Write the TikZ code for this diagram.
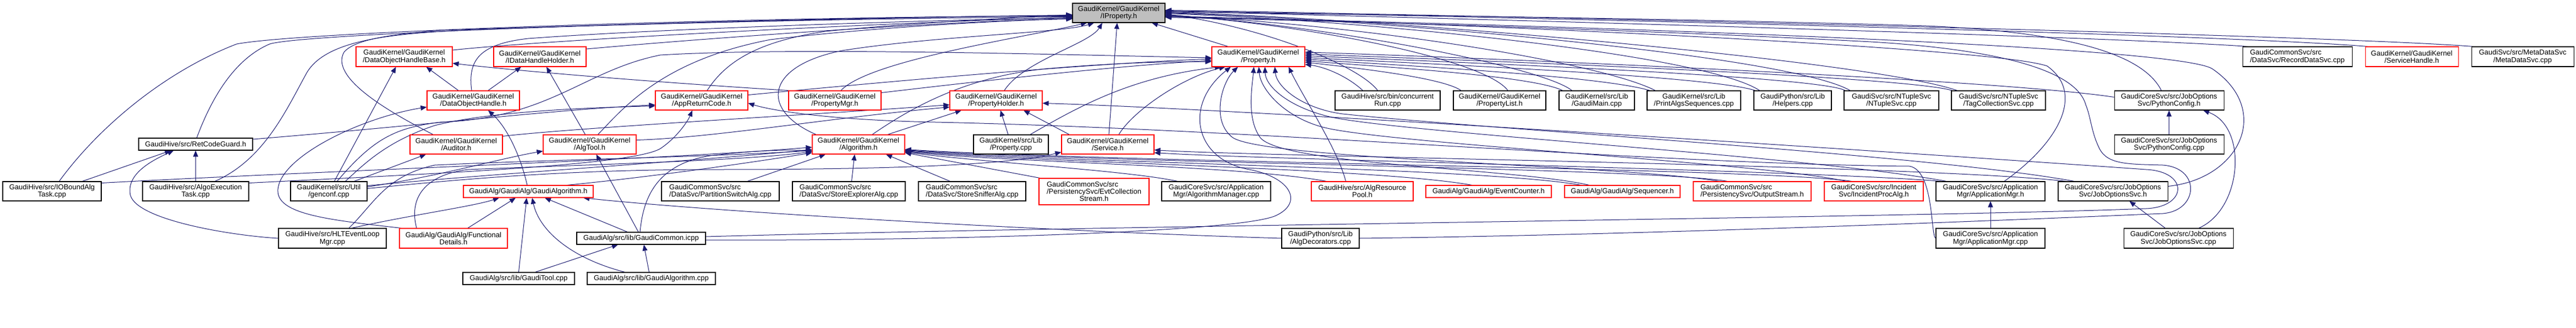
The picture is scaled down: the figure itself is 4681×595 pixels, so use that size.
\documentclass[tikz,border=0pt]{standalone}
\usepackage{fontspec}
\setsansfont{Liberation Sans}
\usetikzlibrary{arrows.meta}
\definecolor{mblue}{RGB}{25,25,112}
\definecolor{gfill}{RGB}{191,191,191}
\pgfdeclarelayer{bg}
\pgfsetlayers{bg,main}
\newlength{\lfw}
\newcommand{\lfirst}[2]{\settowidth{\lfw}{#2}\makebox[\lfw][l]{#1}\\#2}
\begin{document}
\begin{tikzpicture}[x=1pt,y=-1pt,
  box/.style={draw=black, line width=1.1pt, fill=white, inner sep=0pt, align=center,
    font=\sffamily\fontsize{13pt}{13.3pt}\selectfont, text=black},
  rbox/.style={box, draw=red},
  rootbox/.style={box, fill=gfill},
  dep/.style={draw=mblue, line width=1pt, -{Triangle[length=11pt,width=9pt]}}]
\useasboundingbox (0,0) rectangle (4681,595);
% ---------- row 0/1
\node[rootbox, minimum width=168pt, minimum height=35pt] (ip) at (2033,23.5) {GaudiKernel/GaudiKernel\\/IProperty.h};
\node[rbox, minimum width=175pt, minimum height=36pt] (dohb) at (734.5,103) {GaudiKernel/GaudiKernel\\/DataObjectHandleBase.h};
\node[rbox, minimum width=168pt, minimum height=36pt] (idhh) at (981,103) {GaudiKernel/GaudiKernel\\/IDataHandleHolder.h};
\node[rbox, minimum width=169pt, minimum height=36pt] (prop) at (2286.5,103) {GaudiKernel/GaudiKernel\\/Property.h};
\node[box, minimum width=199pt, minimum height=36pt] (rds) at (4174.5,103) {\lfirst{GaudiCommonSvc/src}{/DataSvc/RecordDataSvc.cpp}};
\node[rbox, minimum width=169pt, minimum height=36pt] (sh) at (4382.5,103) {GaudiKernel/GaudiKernel\\/ServiceHandle.h};
\node[box, minimum width=186pt, minimum height=36pt] (mds) at (4584,103) {GaudiSvc/src/MetaDataSvc\\/MetaDataSvc.cpp};
% ---------- row 2
\node[rbox, minimum width=168pt, minimum height=35pt] (doh) at (860,182.5) {GaudiKernel/GaudiKernel\\/DataObjectHandle.h};
\node[rbox, minimum width=168pt, minimum height=35pt] (arc) at (1275,182.5) {GaudiKernel/GaudiKernel\\/AppReturnCode.h};
\node[rbox, minimum width=168pt, minimum height=35pt] (pmgr) at (1517,182.5) {GaudiKernel/GaudiKernel\\/PropertyMgr.h};
\node[rbox, minimum width=168pt, minimum height=35pt] (ph) at (1810,182.5) {GaudiKernel/GaudiKernel\\/PropertyHolder.h};
\node[box, minimum width=191pt, minimum height=35pt] (crun) at (2521.5,182.5) {GaudiHive/src/bin/concurrent\\Run.cpp};
\node[box, minimum width=168pt, minimum height=35pt] (plist) at (2725,182.5) {GaudiKernel/GaudiKernel\\/PropertyList.h};
\node[box, minimum width=137pt, minimum height=35pt] (gmain) at (2901.5,182.5) {GaudiKernel/src/Lib\\/GaudiMain.cpp};
\node[box, minimum width=170pt, minimum height=35pt] (pas) at (3078,182.5) {GaudiKernel/src/Lib\\/PrintAlgsSequences.cpp};
\node[box, minimum width=141pt, minimum height=35pt] (help) at (3257.5,182.5) {GaudiPython/src/Lib\\/Helpers.cpp};
\node[box, minimum width=172pt, minimum height=35pt] (nts) at (3437,182.5) {GaudiSvc/src/NTupleSvc\\/NTupleSvc.cpp};
\node[box, minimum width=171pt, minimum height=35pt] (tcs) at (3631.5,182.5) {GaudiSvc/src/NTupleSvc\\/TagCollectionSvc.cpp};
\node[box, minimum width=199pt, minimum height=35pt] (pch) at (3941.5,182.5) {GaudiCoreSvc/src/JobOptions\\Svc/PythonConfig.h};
% ---------- row 3
\node[box, minimum width=207pt, minimum height=22pt] (rcg) at (355.5,262) {GaudiHive/src/RetCodeGuard.h};
\node[rbox, minimum width=168pt, minimum height=35pt] (aud) at (829,262.5) {GaudiKernel/GaudiKernel\\/Auditor.h};
\node[rbox, minimum width=169pt, minimum height=35pt] (atool) at (1071.5,262.5) {GaudiKernel/GaudiKernel\\/AlgTool.h};
\node[rbox, minimum width=168pt, minimum height=35pt] (alg) at (1560,262.5) {GaudiKernel/GaudiKernel\\/Algorithm.h};
\node[box, minimum width=136pt, minimum height=35pt] (pcpp) at (1837,262.5) {GaudiKernel/src/Lib\\/Property.cpp};
\node[rbox, minimum width=168pt, minimum height=35pt] (svc) at (2013,262.5) {GaudiKernel/GaudiKernel\\/Service.h};
\node[box, minimum width=199pt, minimum height=35pt] (pcc) at (3941.5,262.5) {GaudiCoreSvc/src/JobOptions\\Svc/PythonConfig.cpp};
% ---------- row 4
\node[box, minimum width=179pt, minimum height=35pt] (iob) at (94.5,347.5) {GaudiHive/src/IOBoundAlg\\Task.cpp};
\node[box, minimum width=193pt, minimum height=35pt] (aet) at (355.5,347.5) {GaudiHive/src/AlgoExecution\\Task.cpp};
\node[box, minimum width=139pt, minimum height=35pt] (genc) at (597.5,347.5) {GaudiKernel/src/Util\\/genconf.cpp};
\node[rbox, minimum width=236pt, minimum height=22pt] (galh) at (960,348) {GaudiAlg/GaudiAlg/GaudiAlgorithm.h};
\node[box, minimum width=214pt, minimum height=35pt] (psa) at (1309,347.5) {\lfirst{GaudiCommonSvc/src}{/DataSvc/PartitionSwitchAlg.cpp}};
\node[box, minimum width=205pt, minimum height=35pt] (sea) at (1542.5,347.5) {\lfirst{GaudiCommonSvc/src}{/DataSvc/StoreExplorerAlg.cpp}};
\node[box, minimum width=195pt, minimum height=35pt] (ssa) at (1766.5,347.5) {\lfirst{GaudiCommonSvc/src}{/DataSvc/StoreSnifferAlg.cpp}};
\node[rbox, minimum width=200pt, minimum height=48pt] (ecs) at (1988,348) {\lfirst{GaudiCommonSvc/src}{/PersistencySvc/EvtCollection}\\Stream.h};
\node[box, minimum width=198pt, minimum height=35pt] (amgr) at (2210,347.5) {GaudiCoreSvc/src/Application\\Mgr/AlgorithmManager.cpp};
\node[rbox, minimum width=185pt, minimum height=35pt] (arp) at (2475.5,347.5) {GaudiHive/src/AlgResource\\Pool.h};
\node[rbox, minimum width=228pt, minimum height=22pt] (ecnt) at (2705,348) {GaudiAlg/GaudiAlg/EventCounter.h};
\node[rbox, minimum width=210pt, minimum height=22pt] (seq) at (2948,348) {GaudiAlg/GaudiAlg/Sequencer.h};
\node[rbox, minimum width=214pt, minimum height=35pt] (ostr) at (3184,347.5) {\lfirst{GaudiCommonSvc/src}{/PersistencySvc/OutputStream.h}};
\node[rbox, minimum width=180pt, minimum height=35pt] (ipa) at (3405,347.5) {GaudiCoreSvc/src/Incident\\Svc/IncidentProcAlg.h};
\node[box, minimum width=198pt, minimum height=35pt] (appmh) at (3617,347.5) {GaudiCoreSvc/src/Application\\Mgr/ApplicationMgr.h};
\node[box, minimum width=199pt, minimum height=35pt] (josh) at (3839.5,347.5) {GaudiCoreSvc/src/JobOptions\\Svc/JobOptionsSvc.h};
% ---------- row 5
\node[box, minimum width=196pt, minimum height=36pt] (hlt) at (604,433) {GaudiHive/src/HLTEventLoop\\Mgr.cpp};
\node[rbox, minimum width=196pt, minimum height=36pt] (fd) at (824,433) {GaudiAlg/GaudiAlg/Functional\\Details.h};
\node[box, minimum width=234pt, minimum height=22pt] (gcom) at (1165,433) {GaudiAlg/src/lib/GaudiCommon.icpp};
\node[box, minimum width=141pt, minimum height=36pt] (adec) at (2399.5,433) {GaudiPython/src/Lib\\/AlgDecorators.cpp};
\node[box, minimum width=198pt, minimum height=36pt] (appmc) at (3617,433) {GaudiCoreSvc/src/Application\\Mgr/ApplicationMgr.cpp};
\node[box, minimum width=199pt, minimum height=36pt] (joscpp) at (3958.5,433) {GaudiCoreSvc/src/JobOptions\\Svc/JobOptionsSvc.cpp};
% ---------- row 6
\node[box, minimum width=203pt, minimum height=22pt] (gtool) at (942.5,506) {GaudiAlg/src/lib/GaudiTool.cpp};
\node[box, minimum width=233pt, minimum height=22pt] (galcpp) at (1183.5,506) {GaudiAlg/src/lib/GaudiAlgorithm.cpp};

\begin{pgfonlayer}{bg}
\fill[white] (0,0) rectangle (4681,595);
% ---- into IProperty.h from the left
\draw[dep] ([xshift=13pt]iob.north) .. controls (180,230) and (300,130) .. (430,80) .. controls (560,55) and (1500,28) .. ([yshift=-6pt]ip.west);
\draw[dep] ([xshift=2pt]rcg.north) .. controls (380,190) and (420,110) .. (490,80) .. controls (560,58) and (1500,30) .. ([yshift=-5pt]ip.west);
\draw[dep] ([xshift=35pt]aet.north) .. controls (480,290) and (520,200) .. (557,133) .. controls (590,75) and (700,63) .. (820,56) .. controls (1200,40) and (1700,32) .. ([yshift=-7pt]ip.west);
\draw[dep] ([xshift=-42pt]aud.north) .. controls (700,200) and (600,140) .. (625,95) .. controls (645,70) and (720,62) .. (800,55) .. controls (1200,42) and (1700,30) .. ([yshift=-4pt]ip.west);
\draw[dep] ([xshift=-3pt]doh.north) .. controls (850,110) and (870,80) .. (960,70) .. controls (1200,52) and (1700,36) .. ([yshift=-9pt]ip.west);
\draw[dep] ([yshift=12pt]dohb.east) .. controls (1000,72) and (1600,42) .. ([yshift=-8pt]ip.west);
\draw[dep] ([yshift=14pt]idhh.east) .. controls (1300,68) and (1700,40) .. ([yshift=-10pt]ip.west);
\draw[dep] ([xshift=10pt]arc.north) .. controls (1320,110) and (1380,75) .. (1500,57) .. controls (1650,42) and (1850,32) .. ([yshift=-3pt]ip.west);
\draw[dep] ([xshift=15pt]atool.north) .. controls (1130,200) and (1200,110) .. (1400,72) .. controls (1600,48) and (1850,36) .. ([yshift=-11pt]ip.west);
\draw[dep] ([xshift=11pt]pmgr.north) .. controls (1580,110) and (1850,70) .. ([xshift=-58pt]ip.south);
\draw[dep] ([xshift=-77pt]alg.north) .. controls (1380,200) and (1390,120) .. (1530,92) .. controls (1700,65) and (1930,60) .. ([xshift=-45pt]ip.south);
\draw[dep] ([xshift=15pt]ph.north) .. controls (1860,110) and (1980,80) .. ([xshift=-30pt]ip.south);
\draw[dep] ([xshift=2pt]svc.north) -- ([xshift=-3pt]ip.south);
\draw[dep] ([xshift=-55pt]prop.north) -- ([xshift=60pt]ip.south);
% ---- into IProperty.h from the right
\draw[dep] ([xshift=-18pt]crun.north) .. controls (2470,120) and (2300,50) .. ([yshift=-2pt]ip.east);
\draw[dep] ([xshift=15pt]plist.north) .. controls (2700,110) and (2400,48) .. ([yshift=-3pt]ip.east);
\draw[dep] ([xshift=-45pt]gmain.north) .. controls (2800,120) and (2400,44) .. ([yshift=-4pt]ip.east);
\draw[dep] ([xshift=-70pt]pas.north) .. controls (2900,110) and (2450,42) .. ([yshift=-5pt]ip.east);
\draw[dep] ([xshift=-60pt]help.north) .. controls (3100,100) and (2500,38) .. ([yshift=-1pt]ip.east);
\draw[dep] ([xshift=-75pt]nts.north) .. controls (3250,100) and (2500,35) .. (ip.east);
\draw[dep] ([xshift=-75pt]tcs.north) .. controls (3400,110) and (2500,32) .. ([yshift=1pt]ip.east);
\draw[dep] ([xshift=-14pt]pch.north) .. controls (3900,110) and (3800,60) .. (3500,47) .. controls (3000,32) and (2400,26) .. ([yshift=2pt]ip.east);
\draw[dep] ([xshift=-90pt]rds.north) .. controls (3800,65) and (2600,32) .. ([yshift=3pt]ip.east);
\draw[dep] ([xshift=-80pt]sh.north) .. controls (4000,60) and (2600,28) .. ([yshift=4pt]ip.east);
\draw[dep] ([xshift=-90pt]mds.north) .. controls (4200,62) and (2600,26) .. ([yshift=5pt]ip.east);
\draw[dep] ([xshift=25pt]appmh.north) .. controls (3740,260) and (3790,170) .. (3720,120) .. controls (3620,85) and (2600,40) .. ([yshift=-6pt]ip.east);
\draw[dep] ([yshift=9pt]josh.east) .. controls (4070,325) and (4130,200) .. (4020,125) .. controls (3950,80) and (2700,42) .. ([yshift=-7pt]ip.east);
\draw[dep] (adec.east) .. controls (3000,427) and (3700,398) .. (3930,388) .. controls (3995,383) and (4000,305) .. (3930,300) .. controls (3870,298) and (3830,300) .. (3815,270) .. controls (3800,240) and (3800,215) .. (3790,190) .. controls (3770,120) and (3600,88) .. (3400,76) .. controls (3000,55) and (2500,40) .. ([yshift=-8pt]ip.east);
% ---- into Property.h
\draw[dep] ([yshift=10pt]arc.east) .. controls (1700,140) and (2000,115) .. ([yshift=-4pt]prop.west);
\draw[dep] ([yshift=14pt]pmgr.east) .. controls (1800,145) and (2050,118) .. ([yshift=-7pt]prop.west);
\draw[dep] ([xshift=15pt]genc.north) .. controls (680,250) and (720,232) .. (800,222) .. controls (1000,215) and (1060,128) .. (1200,100) .. controls (1450,85) and (1950,100) .. ([yshift=-2pt]prop.west);
\draw[dep] ([xshift=25pt]alg.north) .. controls (1650,200) and (1750,140) .. (1900,125) .. controls (2050,112) and (2150,112) .. ([yshift=-9pt]prop.west);
\draw[dep] ([xshift=20pt]svc.north) .. controls (2060,200) and (2150,140) .. ([xshift=-60pt]prop.south);
\draw[dep] ([xshift=35pt]pcpp.north) .. controls (1950,200) and (2050,140) .. ([xshift=-68pt]prop.south);
\draw[dep] ([yshift=-3pt]gcom.east) .. controls (1700,438) and (2250,422) .. (2318,392) .. controls (2370,368) and (2345,322) .. (2270,308) .. controls (2170,290) and (2150,190) .. ([xshift=-50pt]prop.south);
\draw[dep] ([xshift=-30pt]arp.north) .. controls (2430,270) and (2370,180) .. ([xshift=55pt]prop.south);
\draw[dep] ([xshift=-60pt]seq.north) .. controls (2750,305) and (2330,300) .. (2290,250) .. controls (2265,215) and (2275,160) .. ([xshift=-8pt]prop.south);
\draw[dep] ([xshift=-60pt]ostr.north) .. controls (2950,300) and (2300,290) .. (2240,250) .. controls (2200,220) and (2220,150) .. ([xshift=-37pt]prop.south);
\draw[dep] ([xshift=-50pt]ipa.north) .. controls (3200,295) and (2500,260) .. (2400,230) .. controls (2330,210) and (2290,160) .. ([xshift=1pt]prop.south);
\draw[dep] ([xshift=-80pt]appmh.north) .. controls (3300,285) and (2600,245) .. (2430,215) .. controls (2350,200) and (2300,160) .. ([xshift=12pt]prop.south);
\draw[dep] ([xshift=-70pt]josh.north) .. controls (3500,280) and (2700,235) .. (2440,207) .. controls (2370,198) and (2320,160) .. ([xshift=30pt]prop.south);
\draw[dep] ([xshift=-45pt]crun.north) .. controls (2450,140) and (2410,122) .. ([yshift=-14pt]prop.east);
\draw[dep] ([xshift=-70pt]plist.north) .. controls (2620,140) and (2450,122) .. ([yshift=-10pt]prop.east);
\draw[dep] ([xshift=-62pt]gmain.north) .. controls (2780,135) and (2450,118) .. ([yshift=-7pt]prop.east);
\draw[dep] ([xshift=-80pt]pas.north) .. controls (2900,135) and (2450,114) .. ([yshift=-4pt]prop.east);
\draw[dep] ([xshift=-68pt]help.north) .. controls (3100,135) and (2450,110) .. ([yshift=-1pt]prop.east);
\draw[dep] ([xshift=-84pt]nts.north) .. controls (3300,135) and (2450,106) .. ([yshift=2pt]prop.east);
\draw[dep] ([xshift=-84pt]tcs.north) .. controls (3450,135) and (2450,102) .. ([yshift=5pt]prop.east);
\draw[dep] ([yshift=6pt]pch.west) .. controls (3600,140) and (2500,98) .. ([yshift=8pt]prop.east);
% ---- into PropertyHolder.h
\draw[dep] ([xshift=-5pt]pcpp.north) -- ([xshift=8pt]ph.south);
\draw[dep] ([xshift=53pt]alg.north) -- ([xshift=-63pt]ph.south);
\draw[dep] ([xshift=-70pt]svc.north) -- ([xshift=50pt]ph.south);
\draw[dep] ([yshift=15pt]aud.east) .. controls (1050,232) and (1450,210) .. ([yshift=-8pt]ph.west);
\draw[dep] ([yshift=8pt]atool.east) .. controls (1300,250) and (1500,215) .. ([yshift=-12pt]ph.west);
\draw[dep] ([yshift=3pt]gcom.east) .. controls (2000,410) and (3500,395) .. (3900,379) .. controls (3975,376) and (3978,312) .. (3900,308) .. controls (3500,280) and (2300,200) .. ([yshift=-5pt]ph.east);
% ---- into Algorithm.h
\draw[dep] ([yshift=15pt]iob.east) .. controls (600,310) and (1200,290) .. ([yshift=-5pt]alg.west);
\draw[dep] ([yshift=10pt]genc.east) .. controls (900,315) and (1300,290) .. ([yshift=-9pt]alg.west);
\draw[dep] ([xshift=30pt]hlt.north) .. controls (680,370) and (700,320) .. (790,300) .. controls (1000,290) and (1300,285) .. ([yshift=-11pt]alg.west);
\draw[dep] ([xshift=-67pt]fd.north) .. controls (745,370) and (760,320) .. (850,308) .. controls (1100,298) and (1350,292) .. ([yshift=-13pt]alg.west);
\draw[dep] ([xshift=70pt]galh.north) .. controls (1200,320) and (1400,290) .. ([yshift=-15pt]alg.west);
\draw[dep] ([xshift=-2pt]gcom.north) .. controls (1168,370) and (1185,300) .. (1290,283) .. controls (1380,272) and (1440,272) .. ([yshift=-12pt]alg.west);
\draw[dep] ([xshift=2pt]ecs.north west) -- ([yshift=-15pt]alg.east);
\draw[dep] ([xshift=-70pt]amgr.north) .. controls (2050,310) and (1800,296) .. ([yshift=-14pt]alg.east);
\draw[dep] ([xshift=-65pt]arp.north) .. controls (2250,300) and (1850,296) .. ([yshift=-13pt]alg.east);
\draw[dep] ([xshift=-30pt]ecnt.north) .. controls (2500,305) and (1900,296) .. ([yshift=-12pt]alg.east);
\draw[dep] ([xshift=-75pt]seq.north) .. controls (2700,305) and (1950,296) .. ([yshift=-11pt]alg.east);
\draw[dep] ([xshift=-45pt]ostr.north) .. controls (3000,305) and (2000,296) .. ([yshift=-10pt]alg.east);
\draw[dep] ([xshift=-40pt]ipa.north) .. controls (3200,305) and (2050,296) .. ([yshift=-9pt]alg.east);
\draw[dep] ([xshift=49pt]psa.north) -- ([xshift=-60pt]alg.south);
\draw[dep] ([xshift=5pt]sea.north) -- ([xshift=-7pt]alg.south);
\draw[dep] ([xshift=-40pt]ssa.north) -- ([xshift=50pt]alg.south);
% ---- into Service.h
\draw[dep] ([yshift=5pt]genc.east) .. controls (800,330) and (1000,308) .. (1300,308) .. controls (1700,308) and (1850,295) .. ([yshift=-14pt]svc.west);
\draw[dep] ([xshift=-85pt]josh.north) .. controls (3500,300) and (2300,285) .. ([yshift=-10pt]svc.east);
\draw[dep] ([xshift=-90pt]appmh.north) .. controls (3300,310) and (2300,290) .. ([yshift=-15pt]svc.east);
% ---- into AppReturnCode.h
\draw[dep] ([yshift=9pt]rcg.east) .. controls (800,225) and (1000,200) .. ([yshift=-8pt]arc.west);
\draw[dep] ([xshift=30pt]genc.north) .. controls (660,300) and (700,258) .. (790,228) .. controls (900,200) and (1100,195) .. ([yshift=-10pt]arc.west);
\draw[dep] ([yshift=15pt]aet.east) .. controls (800,315) and (1150,300) .. (1200,270) .. controls (1230,250) and (1250,220) .. ([xshift=-17pt]arc.south);
\draw[dep] (appmc.west) .. controls (3508,430) and (3515,310) .. (3470,302) .. controls (3000,298) and (2300,235) .. (1700,222) .. controls (1500,218) and (1400,200) .. ([yshift=-5pt]arc.east);
% ---- into RetCodeGuard.h
\draw[dep] ([xshift=55pt]iob.north) -- ([xshift=-45pt]rcg.south);
\draw[dep] (aet.north) -- (rcg.south);
\draw[dep] (hlt.west) .. controls (420,428) and (250,400) .. (237,355) .. controls (228,315) and (280,290) .. ([xshift=-40pt]rcg.south);
% ---- into GaudiAlgorithm.h
\draw[dep] ([xshift=35pt]hlt.north) .. controls (750,390) and (860,375) .. ([xshift=-53pt]galh.south);
\draw[dep] ([xshift=26pt]fd.north) -- ([xshift=-23pt]galh.south);
\draw[dep] (gtool.north) -- ([xshift=-3pt]galh.south);
\draw[dep] ([xshift=-48pt]galcpp.north) .. controls (1040,470) and (980,420) .. ([xshift=7pt]galh.south);
\draw[dep] ([xshift=-25pt]gcom.north) -- ([xshift=30pt]galh.south);
\draw[dep] (adec.west) .. controls (1900,420) and (1300,385) .. ([xshift=100pt]galh.south);
% ---- into GaudiCommon.icpp
\draw[dep] ([xshift=30pt]gtool.north) -- ([xshift=-42pt]gcom.south);
\draw[dep] ([xshift=-4pt]galcpp.north) -- ([xshift=5pt]gcom.south);
% ---- into DataObjectHandle.h
\draw[dep] ([xshift=-2pt]galh.north) .. controls (945,280) and (920,230) .. ([xshift=27pt]doh.south);
\draw[dep] ([xshift=-95pt]fd.north) .. controls (600,400) and (510,390) .. (505,350) .. controls (500,290) and (650,215) .. ([yshift=-12pt]doh.west);
% ---- into DataObjectHandleBase.h
\draw[dep] ([xshift=-27pt]doh.north) -- ([xshift=40pt]dohb.south);
\draw[dep] ([xshift=10pt]genc.north) -- ([xshift=-15pt]dohb.south);
\draw[dep] ([xshift=-84pt]pmgr.north) .. controls (1200,150) and (950,130) .. ([yshift=-12pt]dohb.east);
% ---- into IDataHandleHolder.h
\draw[dep] ([xshift=27pt]doh.north) -- ([xshift=-34pt]idhh.south);
\draw[dep] ([xshift=-8pt]atool.north) -- ([xshift=12pt]idhh.south);
% ---- into Auditor.h / AlgTool.h
\draw[dep] ([xshift=46pt]genc.north) -- ([xshift=-55pt]aud.south);
\draw[dep] ([yshift=8pt]genc.east) .. controls (800,320) and (900,290) .. ([yshift=-12pt]atool.west);
\draw[dep] ([xshift=-5pt]gcom.north) -- ([xshift=12pt]atool.south);
% ---- job options / application manager
\draw[dep] (pcc.north) -- (pch.south);
\draw[dep] ([xshift=37pt]joscpp.north) .. controls (4075,380) and (4085,230) .. ([xshift=62pt]pch.south);
\draw[dep] ([xshift=-24pt]joscpp.north) -- ([xshift=30pt]josh.south);
\draw[dep] (appmc.north) -- (appmh.south);
\end{pgfonlayer}
\end{tikzpicture}
\end{document}
